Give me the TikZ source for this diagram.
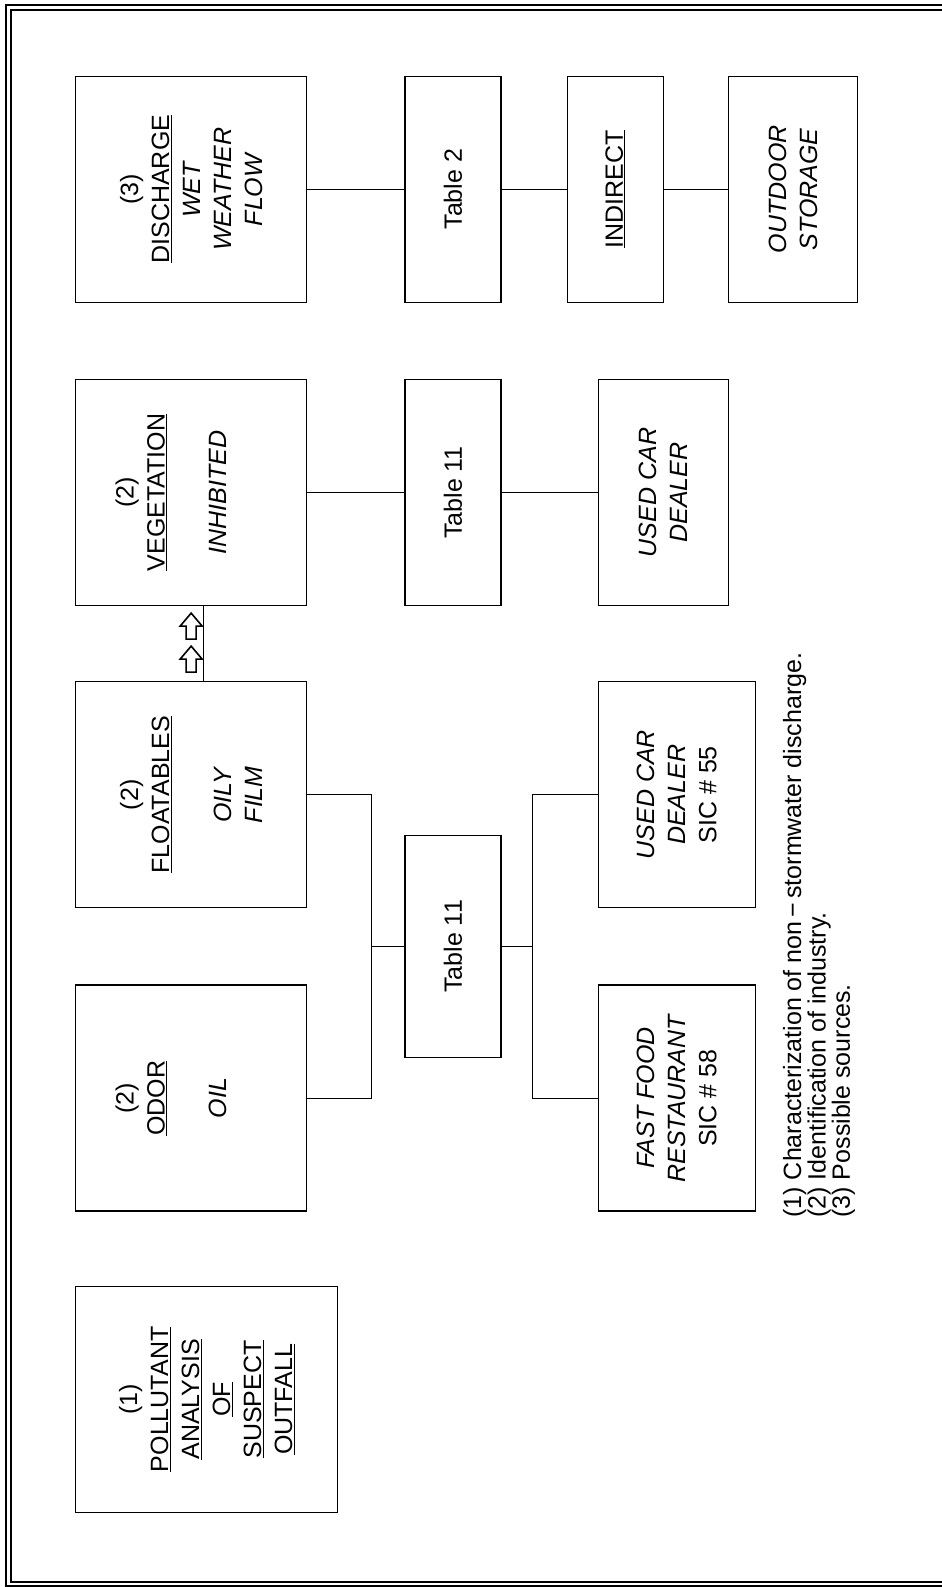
\documentclass[tikz,border=0pt]{standalone}
\usepackage{fontspec}
\setmainfont{Liberation Sans}
\usetikzlibrary{calc,positioning}
\usetikzlibrary{shapes}

\begin{document}
\begin{tikzpicture}[x=1pt, y=1pt,
    main/.style = {draw, rectangle, line width=1.3pt, minimum width=226pt, minimum height=231pt, inner sep=0pt, align=center, font=\fontsize{25}{31}\selectfont},
    tab/.style = {main, minimum height=96pt},
    src/.style = {main, minimum height=157pt},
    line/.style = {line width=1.1pt},
    flow/.style = {draw, line width=1.6pt, line join=miter},
    notes/.style = {align=left, inner sep=0pt, font=\fontsize{25}{23}\selectfont}]
	\useasboundingbox (0,0) rectangle (942,-1587);
	% double frame of the sheet
	\draw[line width=1.2pt] (1000,-5) -- (6,-5) -- (6,-1586) -- (1000,-1586);
	\draw[line width=1.2pt] (1000,-10) -- (11,-10) -- (11,-1582) -- (1000,-1582);
	\begin{scope}[shift={(942,-1587)}, rotate=90, transform shape]
		\node[main, minimum height=262pt, anchor=north west] (pollutant) at (74,867) {(1)\\ \underline{POLLUTANT}\\ \underline{ANALYSIS}\\ \underline{OF}\\ \underline{SUSPECT}\\ \underline{OUTFALL}};
		\node[main, right=74pt of pollutant.north east, anchor=north west] (odor) {(2)\\ \underline{ODOR}\\ \strut\\ \textit{OIL}\\ \strut};
		\node[main, right=76pt of odor] (float) {(2)\\ \underline{FLOATABLES}\\ \strut\\ \textit{OILY}\\ \textit{FILM}};
		\node[main, right=75pt of float] (veg) {(2)\\ \underline{VEGETATION}\\ \strut\\ \textit{INHIBITED}\\ \strut};
		\node[main, right=76pt of veg] (discharge) {(3)\\ \underline{DISCHARGE}\\ \textit{WET}\\ \textit{WEATHER}\\ \textit{FLOW}};
		\node[tab, below=97pt of veg] (tab11a) {Table 11};
		\node[tab, below=97pt of discharge] (tab2) {Table 2};
		\node[tab, below=65pt of tab2] (indirect) {\underline{INDIRECT}};
		\node[main, minimum height=129pt, below=64pt of indirect] (outdoor) {\textit{OUTDOOR}\\ \textit{STORAGE}};
		\node[main, minimum height=130pt, below=96pt of tab11a] (usedcar) {\textit{USED CAR}\\ \textit{DEALER}};
		\coordinate (midtop) at ($(odor.south)!.5!(float.south)$);
		\node[tab, minimum width=222pt, below=97pt of midtop] (tab11b) {Table 11};
		\node[src, anchor=north] (fastfood) at (odor.south |- usedcar.north) {\textit{FAST FOOD}\\ \textit{RESTAURANT}\\ SIC \# 58};
		\node[src, anchor=north] (sic55) at (float.south |- usedcar.north) {\textit{USED CAR}\\ \textit{DEALER}\\ SIC \# 55};
		\draw[line] (discharge) -- (tab2);
		\draw[line] (tab2) -- (indirect);
		\draw[line] (indirect) -- (outdoor);
		\draw[line] (veg) -- (tab11a);
		\draw[line] (tab11a) -- (usedcar);
		\coordinate (oilbus) at ($(tab11b.north)+(0,33)$);
		\draw[line] (odor.south) |- (oilbus) -| (float.south);
		\draw[line] (tab11b) -- (oilbus);
		\coordinate (srcbus) at ($(tab11b.south)+(0,-31)$);
		\draw[line] (fastfood.north) |- (srcbus) -| (sic55.north);
		\draw[line] (tab11b) -- (srcbus);
		\draw[line] ([yshift=-12pt]float.east) -- ([yshift=-12pt]veg.west);
		% two open arrows beside the link
		\coordinate (flow1) at ($(float.east)+(22pt,0pt)$);
		\coordinate (flow2) at ($(float.east)+(55pt,0pt)$);
		\draw[flow] (flow1) ++(-13,-5) -- ++(13,0) -- ++(0,-6) -- ++(13,11) -- ++(-13,11) -- ++(0,-6) -- ++(-13,0) -- cycle;
		\draw[flow] (flow2) ++(-13,-5) -- ++(13,0) -- ++(0,-6) -- ++(13,11) -- ++(-13,11) -- ++(0,-6) -- ++(-13,0) -- cycle;
		\node[notes, anchor=north west] (notes) at ([shift={(-6pt,-27pt)}]fastfood.south west) {(1) Characterization of non\,−\,stormwater discharge.\\ (2) Identification of industry.\\ (3) Possible sources.};
	\end{scope}
\end{tikzpicture}
\end{document}
